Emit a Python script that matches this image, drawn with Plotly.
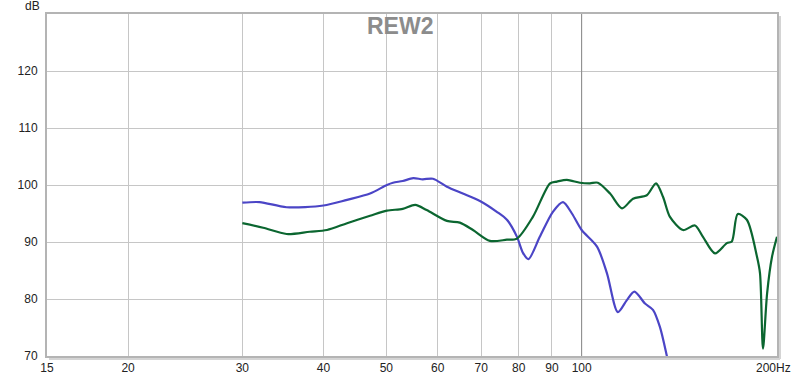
import plotly.graph_objects as go

# Blue trace
blue_f = [30, 31.9, 35.1, 40, 43.5, 47.2, 50.1, 51.2, 53.0, 55.0, 56.9, 59.0, 62.0, 65.6, 69.7,
          74.0, 76.7, 79.5, 81.2, 82.8, 86.2, 90.3, 93.6, 96.6, 100, 105.6, 109.4, 113.7, 117.4,
          120.6, 125.2, 128.8, 132, 135.3, 140]
blue_db = [96.9, 97.0, 96.1, 96.4, 97.4, 98.5, 100.0, 100.4, 100.7, 101.2, 101.0, 101.1, 99.7, 98.5, 97.2,
           95.3, 93.9, 90.9, 88.1, 87.0, 90.9, 95.3, 97.0, 95.0, 92.1, 89.2, 84.5, 77.7, 79.8,
           81.3, 79.2, 78.1, 75.1, 70.0, 62.0]

# Green trace
green_f = [30, 32.3, 35.1, 38.1, 40.5, 43.5, 47.2, 50.1, 53.0, 55.4, 57.7, 62.0, 64.9, 68.0, 72.2,
           76.7, 79.5, 84.1, 89.4, 91.6, 94.9, 99.4, 103, 105.9, 110.6, 115.4, 120, 126, 130.2,
           133.5, 136.8, 143.3, 149.5, 153.8, 160.5, 167.4, 170.4, 174.0, 179.7, 186.3, 188.3,
           190.3, 193.1, 196.5, 200]
green_db = [93.3, 92.5, 91.4, 91.8, 92.1, 93.3, 94.6, 95.5, 95.8, 96.5, 95.6, 93.7, 93.4, 92.1, 90.2,
            90.4, 90.6, 94.4, 100.3, 100.6, 100.9, 100.4, 100.3, 100.4, 98.5, 95.9, 97.6, 98.2, 100.3,
            97.9, 94.4, 92.1, 92.9, 90.9, 88.0, 89.8, 90.1, 94.9, 93.9, 87.4, 84.5,
            71.3, 81.0, 87.4, 90.9]

x_ticks = [15, 20, 30, 40, 50, 60, 70, 80, 90, 100, 200]
x_ticktext = ["15", "20", "30", "40", "50", "60", "70", "80", "90", "100", ""]
y_ticks = [70, 80, 90, 100, 110, 120, 130]
y_ticktext = ["70", "80", "90", "100", "110", "120", ""]

FONT = "Liberation Sans, Arial, sans-serif"

fig = go.Figure()
# darker 100 Hz gridline
fig.add_trace(go.Scatter(x=[100, 100], y=[70, 130], mode="lines",
                         line=dict(color="#8a8a8a", width=1), hoverinfo="skip", showlegend=False))
fig.add_trace(go.Scatter(x=blue_f, y=blue_db, mode="lines",
                         line=dict(color="#4b45c6", width=2.2, shape="spline", smoothing=0.8),
                         showlegend=False))
fig.add_trace(go.Scatter(x=green_f, y=green_db, mode="lines",
                         line=dict(color="#0b6630", width=2.2, shape="spline", smoothing=0.8),
                         showlegend=False))

fig.update_layout(
    width=800, height=378,
    margin=dict(l=47, r=23, t=14, b=22),
    paper_bgcolor="white", plot_bgcolor="white",
    font=dict(family=FONT, size=12, color="#222"),
    xaxis=dict(type="log", range=[1.17609, 2.30103], tickvals=x_ticks, ticktext=x_ticktext,
               showgrid=True, gridcolor="#c6c6c6", gridwidth=1, zeroline=False,
               showline=True, linecolor="#b4b4b4", linewidth=2, mirror=True, automargin=False,
               ticks="", tickfont=dict(size=12, color="#222")),
    yaxis=dict(range=[70, 130], tickvals=y_ticks, ticktext=y_ticktext,
               showgrid=True, gridcolor="#c6c6c6", gridwidth=1, zeroline=False,
               showline=True, linecolor="#b4b4b4", linewidth=2, mirror=True, automargin=False,
               ticks="", ticklabelstandoff=5,
               tickfont=dict(size=12, color="#222")),
    annotations=[
        dict(text="REW2", x=0.5, y=1, xref="paper", yref="paper", xanchor="center", yanchor="middle",
             xshift=-12, yshift=-12, showarrow=False,
             font=dict(family=FONT, size=23, color="#8c8c8c", weight="bold")),
        dict(text="dB", x=0, y=1, xref="paper", yref="paper", xanchor="right", yanchor="bottom",
             xshift=-5, yshift=-1, showarrow=False, font=dict(family=FONT, size=12, color="#222")),
        dict(text="200Hz", x=1, y=0, xref="paper", yref="paper", xanchor="center", yanchor="top",
             xshift=-4, yshift=-3, showarrow=False, font=dict(family=FONT, size=12, color="#222")),
    ],
    shapes=[
        dict(type="line", xref="paper", yref="paper", x0=1 + 3 / 730, x1=1 + 3 / 730,
             y0=-3 / 342, y1=1 - 2 / 342, line=dict(color="#d4d4d4", width=2)),
        dict(type="line", xref="paper", yref="paper", x0=2 / 730, x1=1 + 3 / 730,
             y0=-3 / 342, y1=-3 / 342, line=dict(color="#d4d4d4", width=2)),
    ],
)

fig.write_html("out.html", config={"displayModeBar": False},
               post_script="document.body.style.margin='0';document.body.style.padding='0';")
